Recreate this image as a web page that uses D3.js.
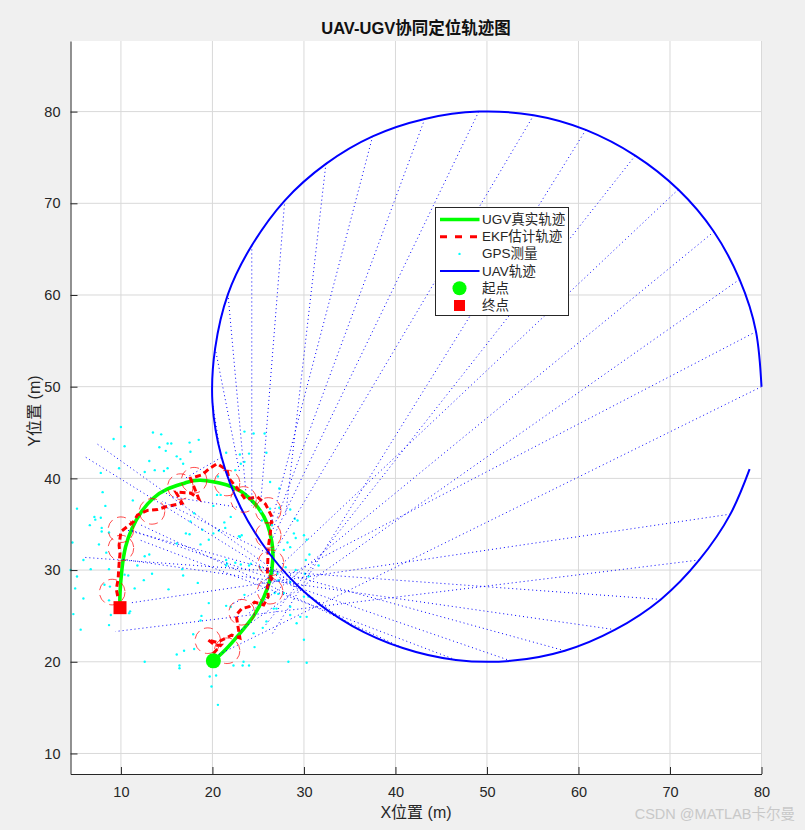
<!DOCTYPE html>
<html>
<head>
<meta charset="utf-8">
<script src="https://cdn.jsdelivr.net/npm/d3@7"></script>
<style>
  html, body { margin: 0; padding: 0; background: #f0f0f0; }
  svg { display: block; }
  text { font-family: "Liberation Sans", "Noto Sans CJK SC", sans-serif; }
</style>
</head>
<body>
<div id="chart"></div>
<script>
// Tick labels
const xTicks = [10, 20, 30, 40, 50, 60, 70, 80];
const yTicks = [10, 20, 30, 40, 50, 60, 70, 80];

// UGV true path
const ugvTrue = [[20.1,20.1],[21.5,21.4],[23,23.1],[24.5,25],[25.6,27],[26.3,29],[26.6,31.2],[26.5,33],[26,35],[25,36.8],[23.5,38.3],[21.5,39.3],[18.7,39.8],[17,39.5],[15,38.8],[13.5,37.8],[12.2,36.3],[11.2,34.5],[10.5,32.5],[10.1,30],[9.9,27.5],[9.9,25.9]];

// EKF estimate, read along the track
const ekfPath = [[20.1,20.9],[20.9,21.8],[20.3,21.8],[19.5,22.4],[20.5,22.1],[22.1,22.9],[23,22.6],[22.8,23.8],[22.6,25.1],[23.2,25.8],[24,26],[24.6,26.5],[25.6,26.2],[26.1,27.1],[26,28.2],[26.5,29.1],[26,29.6],[26.1,32.5],[26.3,33.8],[26.5,35.8],[25.8,37.2],[24.9,38],[23.6,37.7],[22.9,38.7],[21.8,40],[21.6,40.9],[20.5,41.6],[19.7,41.1],[18.9,40.4],[17.6,40],[18.5,37.8],[17.6,38.4],[16,38.5],[16.7,37.3],[14.9,36.9],[14,36.6],[12.9,36.5],[11.8,36],[11.4,35.3],[10,34.2],[9.8,32.7],[9.9,31.8],[9.8,30.7],[9.7,29.1],[9.5,27.9],[9.7,26.9]];

// Covariance rings: centre x, centre y, radius
const ringX = [9.05,10,10,13.4,16.5,18,21.6,23.4,26.1,26.1,26.4,26.3,23.2,19.5,21.6];
const ringY = [27.6,34.4,32.4,36.4,39.1,39.8,39.5,37.7,36.5,33.8,30.8,27.7,25.4,22.3,21.2];
const ringR = [1.4,1.4,1.4,1.4,1.4,1.4,1.4,1.4,1.4,1.4,1.4,1.4,1.4,1.4,1.4];

// GPS measurements
const gpsPoints = [[10,45.6],[9.2,44.3],[10.4,43.5],[13.5,45],[14.4,44.8],[17.5,43.9],[18.5,44.2],[14.2,43.4],[14.9,43],[15.1,43.8],[15.5,43.8],[17.6,42.9],[16.1,42.4],[16.5,42.1],[13.1,41.9],[9.8,41.1],[7.8,40.6],[12.6,40.7],[13.7,40.9],[14.7,40.8],[15.1,41.1],[16.8,41.6],[8,38.5],[5.2,36.7],[8.3,37],[11.3,37.6],[7.1,35.8],[7.2,35.5],[7.8,35.7],[6.6,34.9],[7.9,34.6],[7.9,34.2],[8.7,34.1],[4.7,33],[7.6,32.8],[8.4,31.9],[5.9,31.1],[4.5,30],[5.2,29.3],[6.7,30.1],[5,28],[5.9,26.9],[4.8,25.2],[5.6,23.5],[8.7,30.1],[8.2,28.4],[8.8,28.2],[8.7,26.7],[8.9,25.1],[8.7,24],[11,25.5],[10.9,25.3],[11.5,28],[10.8,29.4],[10.4,29.5],[11.8,30.5],[12.5,28.9],[13.4,29.6],[13.1,31.7],[12.6,31.5],[15.2,27.9],[16.8,29.4],[16.7,30.1],[18.4,28.6],[19.6,26.4],[18.8,25],[18.7,24.5],[17.9,23],[16.9,21.2],[18,21.4],[16.1,20.8],[16.4,19.6],[16.4,19.3],[12.6,20],[19.7,18.4],[20.4,18.5],[19.9,17.3],[20.6,15.3],[22.3,19.6],[23.4,20],[23.3,19.6],[24,19.6],[28.3,20],[30.3,19.9],[30,22.4],[24.6,21.6],[24.5,23.1],[25.5,23.7],[25.9,24.4],[27,25.8],[28.5,25.1],[29.2,24.2],[29.6,24.9],[30.3,24.9],[21.5,26.1],[22,26],[23.5,27.3],[26.8,27.5],[27.2,27.4],[27.8,27.5],[28.5,26],[26.7,25.8],[25.2,30.3],[24,30.5],[24.2,30.7],[22.5,30.8],[23.1,30.6],[21.6,30.7],[21.5,31.1],[21.5,30.5],[23.2,33.8],[22.9,33.7],[23,33.6],[22,35.8],[21.3,35.2],[21.4,34.6],[20.7,34.3],[20.1,34],[19.6,33.3],[18.7,32.8],[17.5,33.9],[17.6,35.3],[18,36.2],[16.1,32.9],[17.1,34],[18.9,34.4],[20.1,37],[20.9,38.2],[21.5,42.8],[23,42.6],[24,42.7],[23.5,45.1],[24.5,44.9],[25.7,44.9],[25.9,42.8],[23.5,41.8],[23.1,41.6],[22.5,40.9],[20.6,40.2],[20.5,38.2],[28.5,36.6],[29,35.6],[29.3,35.4],[28.9,34],[29.1,33.5],[30,33.8],[30.3,33.3],[28.2,33],[28.5,32.5],[27.8,32.2],[25.3,36.4],[25.4,35.4],[26.3,39.6],[27.3,38.9],[26.3,36.7],[27.3,36.8],[26.5,34.9],[30.6,31.7],[30.2,31.1],[31.6,30.5],[29.1,30],[30.1,29.6],[30.5,29.3],[30,27.1],[30.5,27.1],[28.5,28.7],[28,30.3],[27.1,29.6],[27.2,28.9]];

// UAV path, read around the loop
const uavPath = [[80,50],[79.4,56],[77.6,61.7],[74.8,66.9],[70.9,71.5],[66.2,75.2],[60.8,78],[55.1,79.6],[49.1,80],[43.2,79.2],[37.5,77.3],[32.4,74.3],[27.9,70.3],[24.3,65.4],[21.7,60.1],[20.3,54.2],[20,48.3],[21,42.3],[23.1,36.8],[26.3,31.7],[30.4,27.3],[35.3,23.9],[40.8,21.5],[46.6,20.2],[52.6,20.1],[58.5,21.2],[64,23.5],[69,26.8],[73.2,31.1],[76.6,36.1],[78.7,41]];

// Far end of each sight line, same order as uavPath
const rayEnds = [[20.5,20.7],[22,26.2],[23,23.4],[24,25.3],[25,28.2],[25.8,24],[26.5,23],[26.5,31.5],[26.5,33.3],[26.6,34.4],[26.5,35.4],[28,36],[25.3,37.6],[24.3,37],[23.7,38],[23,40.5],[21,42],[17,40],[15.5,38],[14.5,37.5],[6,42.4],[7.2,43.9],[12,35],[12,33.3],[11,34.4],[10.5,34.4],[10,31.2],[5.8,31.4],[9.4,23.3],[10.9,26.4]];

const startPoint = [20.1, 20.1];
const endPoint = [9.9, 25.9];

const legendLabels = ["UGV真实轨迹", "EKF估计轨迹", "GPS测量", "UAV轨迹", "起点", "终点"];

const width = 805;
const height = 830;
const margin = { top: 41, right: 43.5, bottom: 56, left: 70.5 };

const svg = d3.select("#chart").append("svg")
  .attr("width", width)
  .attr("height", height);

// Scales
const x = d3.scaleLinear().domain([4.49, 80]).range([margin.left, width - margin.right]);
const y = d3.scaleLinear().domain([7.76, 87.7]).range([height - margin.bottom, margin.top]);

svg.append("rect")
  .attr("x", margin.left)
  .attr("y", margin.top)
  .attr("width", width - margin.left - margin.right)
  .attr("height", height - margin.top - margin.bottom)
  .attr("fill", "white");

// Grid
svg.selectAll(".gx").data(xTicks).enter().append("line")
  .attr("x1", d => x(d)).attr("x2", d => x(d))
  .attr("y1", margin.top).attr("y2", height - margin.bottom)
  .attr("stroke", "#d9d9d9").attr("stroke-width", 1);
svg.selectAll(".gy").data(yTicks).enter().append("line")
  .attr("x1", margin.left).attr("x2", width - margin.right)
  .attr("y1", d => y(d)).attr("y2", d => y(d))
  .attr("stroke", "#d9d9d9").attr("stroke-width", 1);

const line = d3.line().x(d => x(d[0])).y(d => y(d[1]));
const smooth = d3.line().x(d => x(d[0])).y(d => y(d[1])).curve(d3.curveNatural);

// UGV true path
svg.append("path").attr("d", smooth(ugvTrue))
  .attr("fill", "none").attr("stroke", "#00ff00").attr("stroke-width", 3.6);

// EKF estimate
svg.append("path").attr("d", line(ekfPath))
  .attr("fill", "none").attr("stroke", "#ff0000").attr("stroke-width", 3)
  .attr("stroke-dasharray", "6,3.5");

// GPS points
svg.selectAll(".gps").data(gpsPoints).enter().append("circle")
  .attr("cx", d => x(d[0])).attr("cy", d => y(d[1])).attr("r", 1.2)
  .attr("fill", "#00ffff");

// Sight lines UAV to UGV
svg.selectAll(".ray").data(rayEnds).enter().append("line")
  .attr("x1", (d, i) => x(uavPath[i][0])).attr("y1", (d, i) => y(uavPath[i][1]))
  .attr("x2", d => x(d[0])).attr("y2", d => y(d[1]))
  .attr("stroke", "#0000ff").attr("stroke-width", 1)
  .attr("stroke-dasharray", "1,3");

// UAV path
svg.append("path").attr("d", smooth(uavPath))
  .attr("fill", "none").attr("stroke", "#0000ff").attr("stroke-width", 2);

// Covariance rings
svg.selectAll(".ring").data(ringX).enter().append("circle")
  .attr("cx", d => x(d))
  .attr("cy", (d, i) => y(ringY[i]))
  .attr("r", (d, i) => x(ringR[i]) - x(0))
  .attr("fill", "none").attr("stroke", "#ff0000").attr("stroke-width", 0.7)
  .attr("stroke-dasharray", "9,5");

// Start and end markers
svg.append("circle")
  .attr("cx", x(startPoint[0])).attr("cy", y(startPoint[1])).attr("r", 7.5)
  .attr("fill", "#00ff00");
svg.append("rect")
  .attr("x", x(endPoint[0]) - 6.5).attr("y", y(endPoint[1]) - 6.5)
  .attr("width", 13).attr("height", 13)
  .attr("fill", "#ff0000");

// Axes, ticks point inwards
const xAxis = svg.append("g")
  .attr("transform", `translate(0,${height - margin.bottom})`)
  .call(d3.axisBottom(x).tickValues(xTicks).tickSize(-7).tickPadding(13).tickSizeOuter(0));
const yAxis = svg.append("g")
  .attr("transform", `translate(${margin.left},0)`)
  .call(d3.axisLeft(y).tickValues(yTicks).tickSize(-7).tickPadding(10).tickSizeOuter(0));
[xAxis, yAxis].forEach(a => {
  a.selectAll("path,line").attr("stroke", "#262626");
  a.selectAll("text").attr("fill", "#262626").style("font-size", "14.5px");
});

// Titles
svg.append("text").attr("x", 416).attr("y", 34).attr("text-anchor", "middle")
  .style("font-size", "16.5px").style("font-weight", "bold").attr("fill", "#111")
  .text("UAV-UGV协同定位轨迹图");
svg.append("text").attr("x", 416).attr("y", 818).attr("text-anchor", "middle")
  .style("font-size", "16px").attr("fill", "#262626")
  .text("X位置 (m)");
svg.append("text").attr("transform", "translate(40,411) rotate(-90)").attr("text-anchor", "middle")
  .style("font-size", "16px").attr("fill", "#262626")
  .text("Y位置 (m)");

// Legend
const legend = svg.append("g").attr("transform", "translate(435.5,207.5)");
legend.append("rect").attr("width", 133).attr("height", 108)
  .attr("fill", "white").attr("stroke", "#262626").attr("stroke-width", 1);
const rowY = d3.scalePoint().domain(d3.range(legendLabels.length)).range([12, 98]);
legendLabels.forEach((label, i) => {
  legend.append("text").attr("x", 46.5).attr("y", rowY(i) + 4.5)
    .style("font-size", "13.5px").attr("fill", "#262626").text(label);
});
const sample = (i, color, w) => legend.append("line")
  .attr("x1", 4.5).attr("x2", 44).attr("y1", rowY(i)).attr("y2", rowY(i))
  .attr("stroke", color).attr("stroke-width", w);
sample(0, "#00ff00", 3.6);
sample(1, "#ff0000", 3).attr("stroke-dasharray", "7,8");
legend.append("circle").attr("cx", 24).attr("cy", rowY(2)).attr("r", 1.2).attr("fill", "#00ffff");
sample(3, "#0000ff", 2);
legend.append("circle").attr("cx", 24).attr("cy", rowY(4)).attr("r", 7).attr("fill", "#00ff00");
legend.append("rect").attr("x", 18.5).attr("y", rowY(5) - 5.5).attr("width", 11).attr("height", 11).attr("fill", "#ff0000");

// Watermark
svg.append("text").attr("x", 795).attr("y", 819).attr("text-anchor", "end")
  .style("font-size", "14.5px").attr("fill", "#c8c8c8")
  .text("CSDN @MATLAB卡尔曼");
</script>
</body>
</html>
